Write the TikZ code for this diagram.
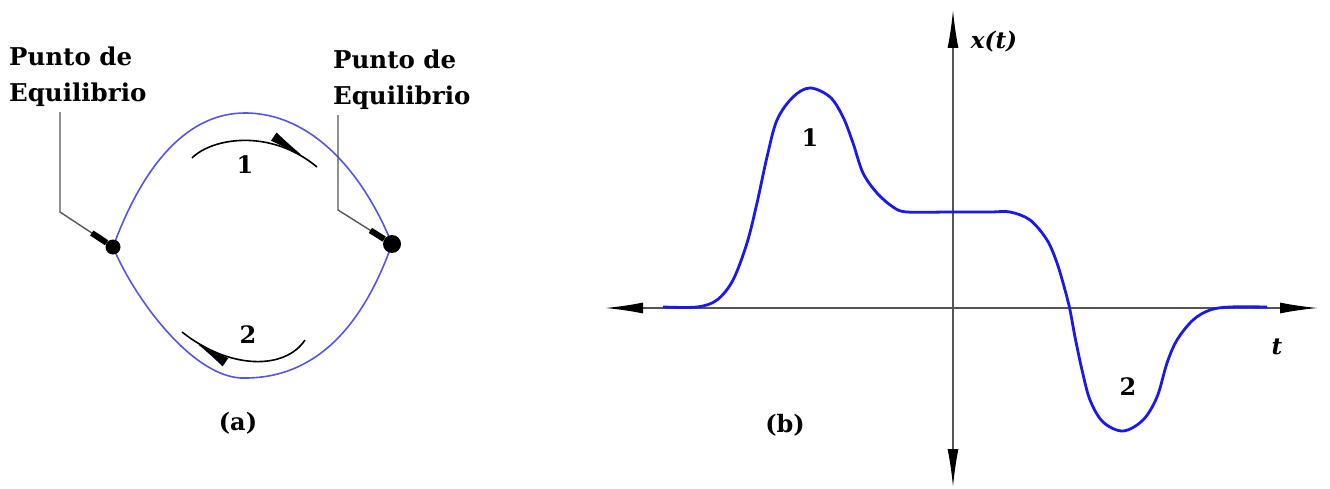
\documentclass[tikz,border=0pt]{standalone}
\usepackage{fontspec}
\setmainfont{DejaVu Serif}
\usetikzlibrary{arrows.meta,positioning,calc,decorations.markings}
\definecolor{loopblue}{RGB}{85,85,238}
\definecolor{curveblue}{RGB}{25,25,235}
\definecolor{axisgray}{RGB}{85,85,85}
\tikzset{
 lbl/.style={font=\fontsize{24.5}{36}\selectfont\bfseries,align=left,inner sep=0pt},
 num/.style={font=\fontsize{24}{28}\selectfont\bfseries,inner sep=0pt},
 axlbl/.style={font=\fontsize{23}{28}\selectfont\bfseries\itshape,inner sep=0pt},
 dotnode/.style={circle,fill=black,inner sep=0pt,minimum size=15pt},
 leader/.style={line width=1.4pt,draw=axisgray},
 orbit/.style={line width=1.6pt,draw=loopblue},
 flow/.style={line width=1.6pt,postaction={decorate},
   decoration={markings,mark=at position #1 with {\arrow{Latex[length=42pt,width=10pt]}}}},
 axis/.style={line width=1.6pt,draw=axisgray,
   {Latex[length=38pt,width=11pt,color=black]}-{Latex[length=38pt,width=11pt,color=black]}},
 curve/.style={line width=2.8pt,draw=curveblue}
}

\begin{document}
\begin{tikzpicture}[x=1pt,y=-1pt]
\useasboundingbox (0,0) rectangle (1330,489);
% (a) phase portrait
\coordinate (pL) at (113,247);
\coordinate (pR) at (392,244);
\draw[orbit] (pL) .. controls (145,160) and (190,113) .. (245,113)
  .. controls (310,113) and (362,170) .. (pR)
  .. controls (365,320) and (320,378) .. (245,378)
  .. controls (195,380) and (135,300) .. (pL);
\node[dotnode] (dotL) at (pL) {};
\node[dotnode,minimum size=18pt] (dotR) at (pR) {};
\draw[flow=0.92] (192,158) .. controls (212,138) and (270,128) .. (317,167);
\draw[flow=0.92] (305,340) .. controls (285,370) and (230,370) .. (182,332);
\node[num] (one) at (245,165) {1};
\node[num] (two) at (248,335) {2};
\node[num] (capa) at (238,423) {(a)};
\node[lbl,anchor=north west] (labL) at (9,47) {Punto de\\Equilibrio};
\node[lbl,anchor=north west] (labR) at (333,50) {Punto de\\Equilibrio};
\coordinate (kL) at (60,212);
\coordinate (kR) at (338,210);
\draw[leader] ([yshift=-5pt]kL |- labL.south) -- (kL) -- (dotL);
\draw[line width=6pt] ($(kL)!0.6!(dotL)$) -- (dotL);
\draw[leader] ([yshift=-5pt]kR |- labR.south) -- (kR) -- (dotR);
\draw[line width=6pt] ($(kR)!0.6!(dotR)$) -- (dotR);

% (b) time response
\coordinate (xl) at (605,308);
\coordinate (xr) at (1318,308);
\coordinate (yt) at (953,10);
\coordinate (yb) at (953,487);
\draw[axis] (xl) -- (xr);
\draw[axis] (yb) -- (yt);
\node[axlbl] (xt) at (994,42) {x(t)};
\node[axlbl] (tl) at (1277,347) {t};
\draw[curve] plot[smooth,tension=0.55] coordinates {
  (663,307) (697,307) (717,300) (733,280) (747,243) (757,203) (767,157)
  (777,120) (793,97) (810,88) (830,97) (843,117) (853,143) (863,173)
  (877,193) (893,207) (907,212) (950,212) (990,212) (1010,212) (1030,220)
  (1047,240) (1057,263) (1065,290) (1070,310) (1075,337) (1082,370)
  (1090,400) (1103,422) (1123,431) (1143,420) (1157,397) (1167,363)
  (1177,340) (1193,320) (1210,310) (1230,307) (1267,307)};
\node[num] (peak) at (810,138) {1};
\node[num] (dip) at (1128,387) {2};
\node[num] (capb) at (785,425) {(b)};
\end{tikzpicture}
\end{document}
